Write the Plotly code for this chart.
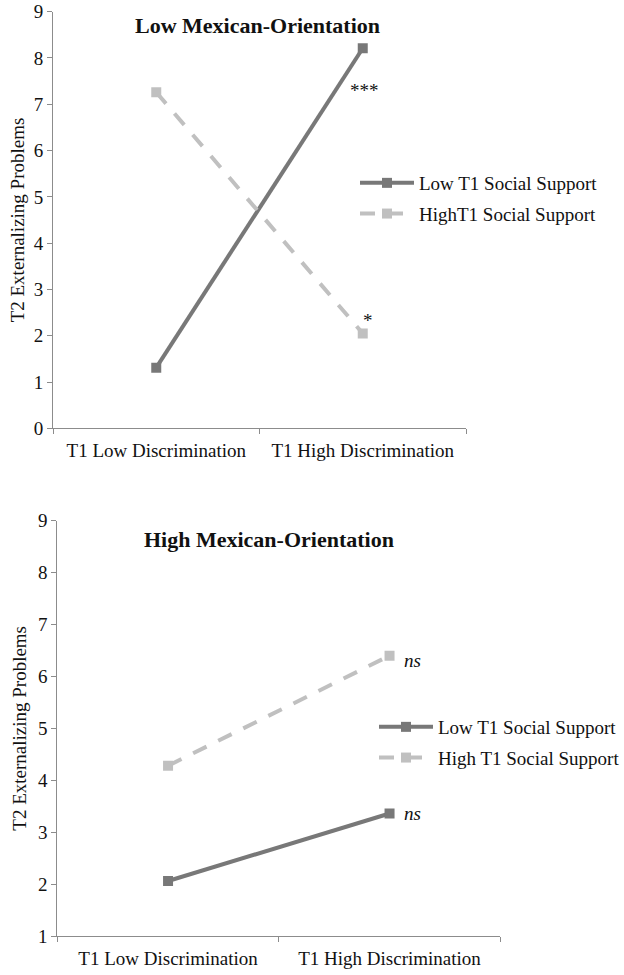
import plotly.graph_objects as go

categories = ["T1 Low Discrimination", "T1 High Discrimination"]

# Top panel: Low Mexican-Orientation
top_low_support = [1.31, 8.21]
top_high_support = [7.26, 2.05]
top_names = ["Low T1 Social Support", "HighT1 Social Support"]
top_sig = ["***", "*"]

# Bottom panel: High Mexican-Orientation
bot_low_support = [2.06, 3.36]
bot_high_support = [4.28, 6.40]
bot_names = ["Low T1 Social Support", "High T1 Social Support"]
bot_sig = ["<i>ns</i>", "<i>ns</i>"]

titles = ["Low Mexican-Orientation", "High Mexican-Orientation"]
y_title = "T2 Externalizing Problems"

W, H = 624, 975
FONT = "Liberation Serif, Times New Roman, serif"
DARK = "#787878"
LIGHT = "#c0c0c0"
AX = "#8c8c8c"
DASH = "15px,13px"

fig = go.Figure()

def add(ys, name, color, dash, xa, ya, legend, group):
    fig.add_trace(go.Scatter(
        x=categories, y=ys, name=name, mode="lines+markers",
        line=dict(color=color, width=4, dash=dash),
        marker=dict(symbol="square", size=10, color=color),
        xaxis=xa, yaxis=ya, legend=legend, legendgroup=group,
    ))

add(top_low_support, top_names[0], DARK, "solid", "x", "y", "legend", "a")
add(top_high_support, top_names[1], LIGHT, DASH, "x", "y", "legend", "b")
add(bot_low_support, bot_names[0], DARK, "solid", "x2", "y2", "legend2", "c")
add(bot_high_support, bot_names[1], LIGHT, DASH, "x2", "y2", "legend2", "d")

def px_x(p):
    return p / W

def px_y(p):
    return 1 - p / H

axis_common = dict(
    showline=True, linecolor=AX, linewidth=1, showgrid=False, zeroline=False,
    ticks="outside", ticklen=5, tickcolor=AX, tickwidth=1, automargin=False,
    tickfont=dict(family=FONT, size=19, color="#111"),
)

fig.update_layout(
    template="none",
    width=W, height=H, margin=dict(l=0, r=0, t=0, b=0, autoexpand=False),
    paper_bgcolor="white", plot_bgcolor="white",
    font=dict(family=FONT, size=19, color="#111"),
    xaxis=dict(domain=[px_x(53), px_x(466)], type="category", range=[-0.5, 1.5],
               tickson="boundaries", anchor="y", ticklabelstandoff=5, **axis_common),
    yaxis=dict(domain=[px_y(428.3), px_y(11.7)], range=[0, 9], dtick=1, anchor="x",
               title=dict(text=y_title, font=dict(family=FONT, size=19, color="#111"), standoff=4),
               **axis_common),
    xaxis2=dict(domain=[px_x(57.3), px_x(500.3)], type="category", range=[-0.5, 1.5],
                tickson="boundaries", anchor="y2", ticklabelstandoff=5, **axis_common),
    yaxis2=dict(domain=[px_y(936), px_y(520.7)], range=[1, 9], dtick=1, anchor="x2",
                title=dict(text=y_title, font=dict(family=FONT, size=19, color="#111"), standoff=6),
                **axis_common),
    legend=dict(x=px_x(355), y=px_y(164), xanchor="left", yanchor="top",
                font=dict(family=FONT, size=19, color="#111"), bgcolor="rgba(0,0,0,0)",
                tracegroupgap=3, itemwidth=54),
    legend2=dict(x=px_x(374), y=px_y(708), xanchor="left", yanchor="top",
                 font=dict(family=FONT, size=19, color="#111"), bgcolor="rgba(0,0,0,0)",
                 tracegroupgap=3, itemwidth=54),
    showlegend=True,
)

ann_font = dict(family=FONT, size=19, color="#111")
fig.add_annotation(x=px_x(257.7), y=px_y(25), xref="paper", yref="paper", text=f"<b>{titles[0]}</b>",
                   showarrow=False, yanchor="middle", font=dict(family=FONT, size=22, color="#111"))
fig.add_annotation(x=px_x(268.5), y=px_y(539), xref="paper", yref="paper", text=f"<b>{titles[1]}</b>",
                   showarrow=False, yanchor="middle", font=dict(family=FONT, size=22, color="#111"))

fig.add_annotation(x=categories[1], y=top_low_support[1], xref="x", yref="y", text=top_sig[0],
                   showarrow=False, font=ann_font, xshift=2, yshift=-42)
fig.add_annotation(x=categories[1], y=top_high_support[1], xref="x", yref="y", text=top_sig[1],
                   showarrow=False, font=ann_font, xshift=5, yshift=13)
fig.add_annotation(x=categories[1], y=bot_high_support[1], xref="x2", yref="y2", text=bot_sig[0],
                   showarrow=False, font=ann_font, xshift=23, yshift=-5)
fig.add_annotation(x=categories[1], y=bot_low_support[1], xref="x2", yref="y2", text=bot_sig[1],
                   showarrow=False, font=ann_font, xshift=23, yshift=0)

fig.write_html("out.html", config={"displayModeBar": False},
               post_script="document.body.style.margin='0';document.body.style.overflow='hidden';")
